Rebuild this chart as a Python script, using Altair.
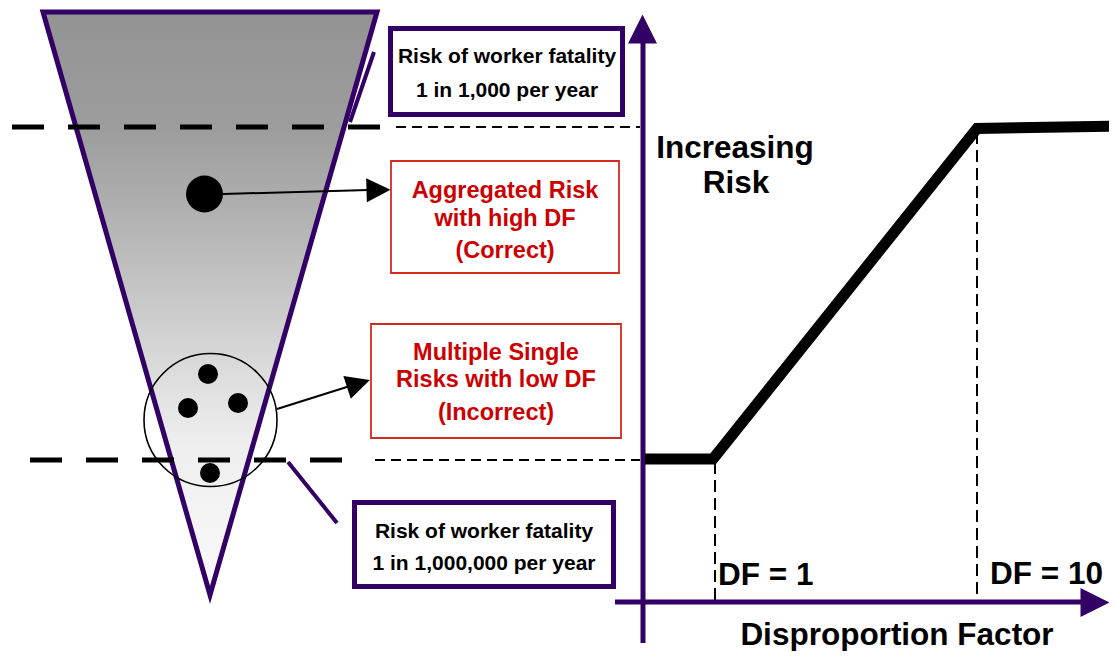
import altair as alt
import pandas as pd

PURPLE = "#330066"
RED = "#cc0000"
RED_BOX = "#d42b1e"
FONT = "Liberation Sans"

# ---------------- data (diagram coordinates, reference pixels) ----------------
# risk funnel (inverted triangle)
FUNNEL_Y = [12, 595]
FUNNEL_LEFT_X = [43, 210]
FUNNEL_RIGHT_X = [377, 210]
OUTLINE_X = [210, 377, 210, 43, 210]
OUTLINE_Y = [12, 12, 595, 12, 12]

# tolerability thresholds (thick dashed part and thin dashed continuation)
THICK_X1 = [12, 30]
THICK_X2 = [380, 342]
THICK_Y = [127, 460]
THIN_X1 = [396, 375]
THIN_X2 = [640, 640]
THIN_Y = [127, 460]

# DF markers
DF_X = [715, 977]
DF_Y1 = [462, 132]
DF_Y2 = [602, 602]

# purple callout connectors
CONN_X1 = [374, 288]
CONN_Y1 = [52, 462]
CONN_X2 = [350, 337]
CONN_Y2 = [122, 523]

# black arrow shafts
SHAFT_X1 = [223, 277]
SHAFT_Y1 = [194, 409]
SHAFT_X2 = [368, 350]
SHAFT_Y2 = [190, 386]

# axes
AXIS_X1 = [643, 615]
AXIS_Y1 = [643, 602]
AXIS_X2 = [643, 1084]
AXIS_Y2 = [42, 602]

# arrow heads
HEAD_X = [378.5, 358.5, 642.5, 1095]
HEAD_Y = [190, 383.75, 29, 602.5]
HEAD_ANGLE = [358.4, 342, 270, 0]
HEAD_SIZE = [576, 576, 841, 841]
HEAD_COLOR = ["#000000", "#000000", PURPLE, PURPLE]

# risk vs disproportion factor curve
CURVE_X = [645, 713, 977, 1117]
CURVE_Y = [459, 459, 128.5, 126]

# risks (dots)
BIG_DOT_X = [204.5]
BIG_DOT_Y = [194]
SMALL_DOT_X = [208, 188, 238, 210]
SMALL_DOT_Y = [374, 408, 403, 473]
GROUP_X = [210.5]
GROUP_Y = [420]

# boxes
PBOX_X1 = [390.5, 354.5]
PBOX_X2 = [622.5, 613.5]
PBOX_Y1 = [28.5, 502.5]
PBOX_Y2 = [114.5, 586.5]
RBOX_X1 = [391, 371]
RBOX_X2 = [619, 621]
RBOX_Y1 = [161, 324]
RBOX_Y2 = [273, 438]

# texts
BOX_LINES = ["Risk of worker fatality", "1 in 1,000 per year",
             "Risk of worker fatality", "1 in 1,000,000 per year"]
BOX_LINE_X = [507, 507, 484, 484]
BOX_LINE_Y = [63, 97, 538, 570]
RED_LINES = ["Aggregated Risk", "with high DF", "(Correct)",
             "Multiple Single", "Risks with low DF", "(Incorrect)"]
RED_LINE_X = [505, 505, 505, 496, 496, 496]
RED_LINE_Y = [198, 226, 258, 360, 387, 420]
BIG_CENTER_LINES = ["Increasing", "Risk", "Disproportion Factor"]
BIG_CENTER_X = [735, 736, 897]
BIG_CENTER_Y = [158, 193, 645]
DF_LABELS = ["DF = 1", "DF = 10"]
DF_LABEL_X = [718, 990]
DF_LABEL_Y = [585, 584]

# funnel shading (offset along the funnel height, grey colour)
SHADE_OFFSET = [0, 0.2, 0.32, 0.5, 0.63, 0.74, 1]
SHADE_COLOR = ["#939393", "#9d9d9d", "#adadad", "#c9c9c9", "#dedede", "#eeeeee", "#fafafa"]

# ---------------- scales ----------------
XS = alt.Scale(domain=[8, 1109], nice=False, zero=False)
YS = alt.Scale(domain=[8, 651], nice=False, zero=False, reverse=True)


def X(f):
    return alt.X(f"{f}:Q", scale=XS, axis=None)


def Y(f):
    return alt.Y(f"{f}:Q", scale=YS, axis=None)


def segs(x1, y1, x2, y2, **mk):
    df = pd.DataFrame({"x": x1, "y": y1, "x2": x2, "y2": y2})
    return alt.Chart(df).mark_rule(**mk).encode(
        x=X("x"), y=Y("y"), x2=alt.X2("x2:Q"), y2=alt.Y2("y2:Q"))


# funnel fill with gradient
funnel_df = pd.DataFrame({"y": FUNNEL_Y, "xl": FUNNEL_LEFT_X, "xr": FUNNEL_RIGHT_X})
funnel = alt.Chart(funnel_df).mark_area(
    orient="horizontal",
    fill=alt.Gradient(
        gradient="linear",
        stops=[alt.GradientStop(color=c, offset=o) for o, c in zip(SHADE_OFFSET, SHADE_COLOR)],
        x1=0, x2=0, y1=0, y2=1),
    opacity=1,
).encode(y=Y("y"), x=X("xl"), x2=alt.X2("xr:Q"))

outline_df = pd.DataFrame({"x": OUTLINE_X, "y": OUTLINE_Y, "i": list(range(len(OUTLINE_X)))})
outline = alt.Chart(outline_df).mark_line(
    color=PURPLE, strokeWidth=5, strokeJoin="miter", strokeCap="butt", opacity=1
).encode(x=X("x"), y=Y("y"), order=alt.Order("i:Q"))

thick = segs(THICK_X1, THICK_Y, THICK_X2, THICK_Y, color="black", strokeWidth=5,
             strokeDash=[32, 24], strokeCap="butt")
thin = segs(THIN_X1, THIN_Y, THIN_X2, THIN_Y, color="black", strokeWidth=2,
            strokeDash=[10, 6], strokeCap="butt")
dfl = segs(DF_X, DF_Y1, DF_X, DF_Y2, color="black", strokeWidth=2,
           strokeDash=[12, 6], strokeCap="butt")
conn = segs(CONN_X1, CONN_Y1, CONN_X2, CONN_Y2, color=PURPLE, strokeWidth=4, strokeCap="butt")
shafts = segs(SHAFT_X1, SHAFT_Y1, SHAFT_X2, SHAFT_Y2, color="black", strokeWidth=2, strokeCap="butt")
axes = segs(AXIS_X1, AXIS_Y1, AXIS_X2, AXIS_Y2, color=PURPLE, strokeWidth=5, strokeCap="butt")

group = alt.Chart(pd.DataFrame({"x": GROUP_X, "y": GROUP_Y})).mark_point(
    shape="circle", filled=False, color="black", strokeWidth=1.6, size=17689, opacity=1
).encode(x=X("x"), y=Y("y"))
big_dot = alt.Chart(pd.DataFrame({"x": BIG_DOT_X, "y": BIG_DOT_Y})).mark_point(
    shape="circle", filled=True, color="black", size=1369, opacity=1, strokeWidth=0
).encode(x=X("x"), y=Y("y"))
small_dots = alt.Chart(pd.DataFrame({"x": SMALL_DOT_X, "y": SMALL_DOT_Y})).mark_point(
    shape="circle", filled=True, color="black", size=400, opacity=1, strokeWidth=0
).encode(x=X("x"), y=Y("y"))

heads = alt.Chart(pd.DataFrame({"x": HEAD_X, "y": HEAD_Y, "a": HEAD_ANGLE,
                                "s": HEAD_SIZE, "c": HEAD_COLOR})).mark_point(
    shape="M1,0L-1,-1L-1,1Z", filled=True, opacity=1, strokeWidth=0
).encode(x=X("x"), y=Y("y"), angle=alt.Angle("a:Q", scale=None),
         size=alt.Size("s:Q", scale=None), color=alt.Color("c:N", scale=None))

curve_df = pd.DataFrame({"x": CURVE_X, "y": CURVE_Y, "i": list(range(len(CURVE_X)))})
curve = alt.Chart(curve_df).mark_line(
    color="black", strokeWidth=11, strokeJoin="miter", strokeCap="butt", opacity=1
).encode(x=X("x"), y=Y("y"), order=alt.Order("i:Q"))

pbox = alt.Chart(pd.DataFrame({"x": PBOX_X1, "x2": PBOX_X2, "y": PBOX_Y1, "y2": PBOX_Y2})).mark_rect(
    fill="white", stroke=PURPLE, strokeWidth=5, opacity=1
).encode(x=X("x"), x2=alt.X2("x2:Q"), y=Y("y"), y2=alt.Y2("y2:Q"))
rbox = alt.Chart(pd.DataFrame({"x": RBOX_X1, "x2": RBOX_X2, "y": RBOX_Y1, "y2": RBOX_Y2})).mark_rect(
    fill="white", stroke=RED_BOX, strokeWidth=1.8, opacity=1
).encode(x=X("x"), x2=alt.X2("x2:Q"), y=Y("y"), y2=alt.Y2("y2:Q"))


def texts(lines, xs, ys, size, color, align="center"):
    df = pd.DataFrame({"t": lines, "x": xs, "y": ys})
    return alt.Chart(df).mark_text(
        font=FONT, fontWeight="bold", fontSize=size, color=color,
        align=align, baseline="alphabetic"
    ).encode(x=X("x"), y=Y("y"), text="t:N")


box_text = texts(BOX_LINES, BOX_LINE_X, BOX_LINE_Y, 21, "black")
red_text = texts(RED_LINES, RED_LINE_X, RED_LINE_Y, 23.5, RED)
big_text = texts(BIG_CENTER_LINES, BIG_CENTER_X, BIG_CENTER_Y, 31.5, "black")
df_text = texts(DF_LABELS, DF_LABEL_X, DF_LABEL_Y, 31.5, "black", align="left")

chart = alt.layer(
    funnel, outline, group, thick, thin, small_dots, big_dot, conn, shafts,
    pbox, rbox, box_text, red_text, dfl, axes, heads, curve, big_text, df_text
).properties(
    width=1101, height=643,
    padding=0,
    autosize=alt.AutoSizeParams(type="none"),
).configure(
    background="white",
    view=alt.ViewConfig(stroke=None),
)

chart.save("out.html", embed_options={"renderer": "svg", "actions": False})
